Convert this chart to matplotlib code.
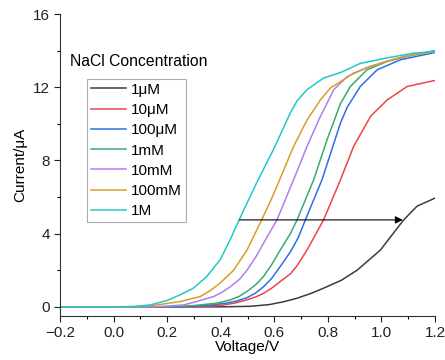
import matplotlib
matplotlib.use("Agg")
from matplotlib import pyplot as plt

plt.rcParams['font.family'] = ['Liberation Sans', 'DejaVu Sans']

# courbes I-V pour chaque concentration de NaCl
labels = ["1\u03bcM", "10\u03bcM", "100\u03bcM", "1mM", "10mM", "100mM", "1M"]
colors = ["#3c3c3c", "#f04444", "#2c6fe6", "#3aaa6c", "#b07ef0", "#d4a024", "#22c8c8"]

v_1uM = [-0.2, 0.4, 0.51, 0.58, 0.635, 0.685, 0.74, 0.784, 0.85, 0.909, 0.996, 1.083, 1.133, 1.2]
i_1uM = [0.0, 0.0, 0.03, 0.12, 0.28, 0.47, 0.75, 1.02, 1.45, 2.0, 3.1, 4.75, 5.5, 5.94]

v_10uM = [-0.2, 0.3, 0.4, 0.45, 0.498, 0.53, 0.56, 0.59, 0.622, 0.66, 0.685, 0.722, 0.784, 0.847, 0.896, 0.959, 1.021, 1.096, 1.2]
i_10uM = [0.0, 0.0, 0.08, 0.2, 0.38, 0.54, 0.74, 1.02, 1.38, 1.8, 2.25, 3.1, 4.75, 6.94, 8.76, 10.4, 11.3, 12.04, 12.37]

v_100uM = [-0.2, 0.25, 0.35, 0.42, 0.46, 0.498, 0.53, 0.56, 0.59, 0.622, 0.66, 0.69, 0.716, 0.778, 0.847, 0.872, 0.921, 0.984, 1.071, 1.2]
i_100uM = [0.0, 0.0, 0.08, 0.2, 0.32, 0.5, 0.75, 1.1, 1.55, 2.2, 3.0, 3.8, 4.75, 6.94, 10.04, 10.9, 12.04, 12.95, 13.5, 13.9]

v_1mM = [-0.2, 0.2, 0.3, 0.386, 0.436, 0.47, 0.498, 0.53, 0.56, 0.59, 0.622, 0.66, 0.685, 0.747, 0.797, 0.847, 0.884, 0.946, 1.02, 1.1, 1.2]
i_1mM = [0.0, 0.0, 0.07, 0.2, 0.38, 0.58, 0.84, 1.2, 1.66, 2.3, 3.1, 4.0, 4.75, 6.94, 9.13, 11.1, 12.04, 12.95, 13.4, 13.7, 14.0]

v_10mM = [-0.2, 0.15, 0.26, 0.31, 0.373, 0.405, 0.436, 0.47, 0.498, 0.53, 0.56, 0.61, 0.672, 0.722, 0.772, 0.822, 0.872, 0.95, 1.05, 1.2]
i_10mM = [0.0, 0.0, 0.1, 0.29, 0.56, 0.8, 1.1, 1.5, 2.0, 2.7, 3.48, 4.75, 6.94, 8.76, 10.4, 11.86, 12.58, 13.1, 13.55, 14.0]

v_100mM = [-0.2, 0.08, 0.16, 0.249, 0.323, 0.36, 0.398, 0.448, 0.498, 0.548, 0.585, 0.616, 0.672, 0.722, 0.772, 0.809, 0.847, 0.896, 0.959, 1.083, 1.2]
i_100mM = [0.0, 0.0, 0.1, 0.29, 0.56, 0.88, 1.3, 2.0, 3.1, 4.6, 5.75, 6.8, 8.76, 10.2, 11.3, 11.95, 12.3, 12.77, 13.13, 13.68, 13.95]

v_1M = [-0.2, 0.0, 0.07, 0.136, 0.2, 0.249, 0.298, 0.348, 0.398, 0.435, 0.47, 0.504, 0.535, 0.597, 0.635, 0.66, 0.685, 0.722, 0.784, 0.847, 0.921, 1.02, 1.12, 1.2]
i_1M = [0.0, 0.0, 0.02, 0.1, 0.35, 0.66, 1.02, 1.66, 2.57, 3.66, 4.79, 5.85, 6.8, 8.6, 9.8, 10.6, 11.25, 11.86, 12.5, 12.8, 13.3, 13.6, 13.86, 13.95]

voltages = [v_1uM, v_10uM, v_100uM, v_1mM, v_10mM, v_100mM, v_1M]
currents = [i_1uM, i_10uM, i_100uM, i_1mM, i_10mM, i_100mM, i_1M]

fig = plt.figure(figsize=(4.45, 3.6), dpi=100)
ax = fig.add_axes([60 / 445, 44 / 360, 375 / 445, 302 / 360])

for v, i, c, lab in zip(voltages, currents, colors, labels):
    ax.plot(v, i, color=c, lw=1.1, label=lab)

# fleche de decalage
ax.annotate("", xy=(1.09, 4.75), xytext=(0.46, 4.75),
            arrowprops=dict(arrowstyle="-|>", color="black", lw=0.8, mutation_scale=11))

ax.set_xlim(-0.2, 1.2)
ax.set_ylim(-0.5, 16)
ax.set_xticks([-0.2, 0.0, 0.2, 0.4, 0.6, 0.8, 1.0, 1.2])
ax.set_xticks([-0.1, 0.1, 0.3, 0.5, 0.7, 0.9, 1.1], minor=True)
ax.set_yticks([0, 4, 8, 12, 16])
ax.set_yticks([2, 6, 10, 14], minor=True)
ax.tick_params(labelsize=11, direction="out", length=4, width=0.8, colors="#222222", pad=3)
ax.tick_params(which="minor", direction="out", length=2.5, width=0.8)
for s in ["top", "right"]:
    ax.spines[s].set_visible(False)
for s in ["left", "bottom"]:
    ax.spines[s].set_linewidth(0.8)
    ax.spines[s].set_color("#333333")

ax.set_xlabel("Voltage/V", fontsize=11, labelpad=0)
ax.set_ylabel("Current/\u03bcA", fontsize=11, labelpad=4)

leg = ax.legend(loc="upper left", bbox_to_anchor=(0.072, 0.785), borderaxespad=0,
                fontsize=11, frameon=True, fancybox=False, handlelength=2.3,
                labelspacing=0.41, handletextpad=0.35, borderpad=0.25)
leg.get_frame().set_edgecolor("#999999")
leg.get_frame().set_linewidth(0.8)

fig.text(70 / 445, 1 - 62 / 360, "NaCl Concentration", fontsize=11.3, va="center", ha="left")

fig.savefig("out.png", dpi=100)
